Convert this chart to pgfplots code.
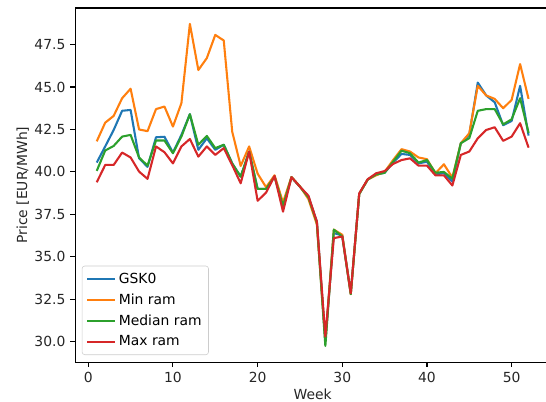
\documentclass[border=0pt]{standalone}
\usepackage{pgfplots}
\pgfplotsset{compat=1.18}
\usepackage{pgfplotstable}
\usepackage{fontspec}
\setmainfont{DejaVu Sans}

\definecolor{tabblue}{HTML}{1F77B4}
\definecolor{taborange}{HTML}{FF7F0E}
\definecolor{tabgreen}{HTML}{2CA02C}
\definecolor{tabred}{HTML}{D62728}

% week, GSK0, min ram, median ram, max ram
\pgfplotstableread{
w  gsk    mn     med    mx
1  40.55  41.80  40.06  39.39
2  41.50  42.90  41.26  40.41
3  42.47  43.30  41.53  40.41
4  43.60  44.34  42.08  41.14
5  43.65  44.90  42.18  40.85
6  40.80  42.50  40.85  40.02
7  40.30  42.40  40.37  39.59
8  42.04  43.70  41.85  41.50
9  42.07  43.85  41.85  41.16
10 41.14  42.67  41.10  40.50
11 42.18  44.05  42.08  41.50
12 43.40  48.72  43.40  41.94
13 41.30  46.00  41.60  40.90
14 41.98  46.70  42.12  41.50
15 41.30  48.07  41.40  41.00
16 41.60  47.74  41.60  41.40
17 40.50  42.37  40.50  40.40
18 39.72  40.35  39.72  39.33
19 41.20  41.50  41.20  41.20
20 39.00  39.90  39.00  38.30
21 39.00  39.10  39.00  38.78
22 39.76  39.80  39.72  39.76
23 38.00  38.20  38.00  37.66
24 39.69  39.70  39.69  39.69
25 39.13  39.15  39.13  39.13
26 38.55  38.40  38.50  38.60
27 37.07  36.90  37.00  37.07
28 30.00  30.00  29.75  30.30
29 36.40  36.60  36.60  36.10
30 36.25  36.30  36.20  36.20
31 32.85  32.80  32.80  32.85
32 38.70  38.70  38.70  38.74
33 39.55  39.55  39.55  39.57
34 39.85  39.80  39.85  39.92
35 39.95  40.00  39.95  40.05
36 40.55  40.70  40.60  40.47
37 41.06  41.34  41.25  40.70
38 41.00  41.20  41.10  40.80
39 40.50  40.85  40.55  40.37
40 40.60  40.75  40.70  40.37
41 39.85  39.92  39.95  39.80
42 39.93  40.45  40.00  39.80
43 39.43  39.67  39.60  39.20
44 41.69  41.69  41.69  41.00
45 42.20  42.28  41.99  41.20
46 45.26  45.07  43.60  41.98
47 44.50  44.50  43.70  42.47
48 44.10  44.30  43.70  42.63
49 42.75  43.75  42.80  41.83
50 43.00  44.24  43.10  42.08
51 45.07  46.35  44.34  42.87
52 42.14  44.30  42.30  41.43
}\prices

\begin{document}
\begin{tikzpicture}
\useasboundingbox (0,0) rectangle (393.1pt,289.4pt);
\begin{axis}[
    at={(54.1pt,28.7pt)}, anchor=south west,
    scale only axis,
    width=342pt, height=254.9pt,
    xmin=-1.55, xmax=54.55,
    ymin=28.8, ymax=49.65,
    xtick={0,10,20,30,40,50},
    ytick={30,32.5,35,37.5,40,42.5,45,47.5},
    yticklabel style={/pgf/number format/.cd, fixed, fixed zerofill, precision=1},
    /pgf/number format/assume math mode=true,
    tick align=outside,
    tick pos=left,
    major tick length=3.5pt,
    tick style={black, line width=0.8pt},
    axis line style={line width=0.8pt},
    every tick label/.append style={font=\fontsize{10}{12}\selectfont, text=black!85},
    xlabel={Week}, ylabel={Price [EUR/MWh]},
    label style={font=\fontsize{10}{12}\selectfont, text=black!85},
    xlabel style={yshift=2pt},
    ylabel style={yshift=-3pt},
    legend cell align=left,
    legend style={at={(0.014,0.02)}, anchor=south west,
        draw=black!20, rounded corners=2pt, fill=white, fill opacity=0.8,
        text opacity=1, font=\fontsize{10}{12}\selectfont,
        inner xsep=3pt, inner ysep=3pt, row sep=2pt},
    legend image code/.code={\draw[#1, line width=1.5pt] (0pt,0pt) -- (20pt,0pt);},
    every axis plot/.append style={line width=1.5pt, line join=round},
]
\addplot[tabblue]   table[x=w, y=gsk] {\prices};
\addlegendentry{GSK0}
\addplot[taborange] table[x=w, y=mn]  {\prices};
\addlegendentry{Min ram}
\addplot[tabgreen]  table[x=w, y=med] {\prices};
\addlegendentry{Median ram}
\addplot[tabred]    table[x=w, y=mx]  {\prices};
\addlegendentry{Max ram}
\end{axis}
\end{tikzpicture}
\end{document}
